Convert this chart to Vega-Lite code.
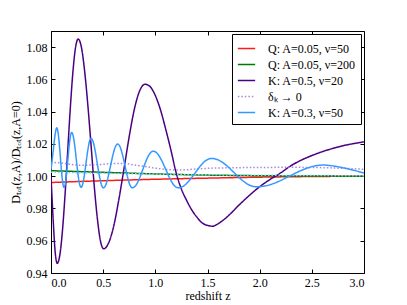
{
  "$schema": "https://vega.github.io/schema/vega-lite/v6.json",
  "width": 313,
  "height": 242,
  "autosize": {"type": "none"},
  "padding": {"left": 51, "top": 31, "right": 43, "bottom": 32},
  "background": "white",
  "config": {
    "view": {"stroke": "black", "strokeWidth": 1},
    "font": "Liberation Serif",
    "axis": {"grid": false, "domainColor": "black", "tickColor": "black", "labelColor": "black", "titleColor": "black", "labelFont": "Liberation Serif", "titleFont": "Liberation Serif", "labelFontSize": 12, "titleFontSize": 12, "titleFontWeight": "normal", "tickSize": -4, "labelPadding": 8},
    "legend": {"labelFont": "Liberation Serif", "labelFontSize": 12, "labelColor": "black"}
  },
  "data": {"values": [
    {"s":"Q50","z":0,"v":0.9961},{"s":"Q50","z":0.5,"v":0.9972},{"s":"Q50","z":1.0,"v":0.9981},{"s":"Q50","z":1.5,"v":0.9988},{"s":"Q50","z":2.0,"v":0.9994},{"s":"Q50","z":2.5,"v":0.9998},{"s":"Q50","z":3.0,"v":1.0000},
    {"s":"Q200","z":0,"v":1.0034},{"s":"Q200","z":0.25,"v":1.0029},{"s":"Q200","z":0.5,"v":1.0024},{"s":"Q200","z":0.75,"v":1.0019},{"s":"Q200","z":1.0,"v":1.0014},{"s":"Q200","z":1.25,"v":1.0010},{"s":"Q200","z":1.5,"v":1.0007},{"s":"Q200","z":2.0,"v":1.0003},{"s":"Q200","z":2.5,"v":1.0001},{"s":"Q200","z":3.0,"v":1.0000},
    {"s":"K20","z":0,"v":1.000},{"s":"K20","z":0.02,"v":0.974},{"s":"K20","z":0.04,"v":0.953},{"s":"K20","z":0.06,"v":0.946},{"s":"K20","z":0.085,"v":0.9513},{"s":"K20","z":0.11,"v":0.9664},{"s":"K20","z":0.135,"v":0.9889},{"s":"K20","z":0.16,"v":1.0155},{"s":"K20","z":0.185,"v":1.0421},{"s":"K20","z":0.21,"v":1.0646},{"s":"K20","z":0.235,"v":1.0797},{"s":"K20","z":0.26,"v":1.085},{"s":"K20","z":0.291,"v":1.0801},{"s":"K20","z":0.321,"v":1.066},{"s":"K20","z":0.352,"v":1.0449},{"s":"K20","z":0.383,"v":1.02},{"s":"K20","z":0.413,"v":0.9951},{"s":"K20","z":0.444,"v":0.974},{"s":"K20","z":0.474,"v":0.9599},{"s":"K20","z":0.505,"v":0.955},{"s":"K20","z":0.554,"v":0.9589},{"s":"K20","z":0.604,"v":0.9699},{"s":"K20","z":0.653,"v":0.9865},{"s":"K20","z":0.703,"v":1.006},{"s":"K20","z":0.752,"v":1.0255},{"s":"K20","z":0.801,"v":1.0421},{"s":"K20","z":0.851,"v":1.0531},{"s":"K20","z":0.9,"v":1.057},{"s":"K20","z":0.95,"v":1.0555},{"s":"K20","z":1.0,"v":1.05},{"s":"K20","z":1.05,"v":1.041},{"s":"K20","z":1.1,"v":1.029},{"s":"K20","z":1.15,"v":1.016},{"s":"K20","z":1.2,"v":1.002},{"s":"K20","z":1.25,"v":0.992},{"s":"K20","z":1.3,"v":0.985},{"s":"K20","z":1.35,"v":0.979},{"s":"K20","z":1.4,"v":0.9745},{"s":"K20","z":1.45,"v":0.971},{"s":"K20","z":1.5,"v":0.9695},{"s":"K20","z":1.55,"v":0.969},{"s":"K20","z":1.6,"v":0.9705},{"s":"K20","z":1.7,"v":0.9755},{"s":"K20","z":1.8,"v":0.982},{"s":"K20","z":1.9,"v":0.988},{"s":"K20","z":2.0,"v":0.9935},{"s":"K20","z":2.1,"v":0.998},{"s":"K20","z":2.2,"v":1.002},{"s":"K20","z":2.3,"v":1.0065},{"s":"K20","z":2.4,"v":1.01},{"s":"K20","z":2.5,"v":1.0128},{"s":"K20","z":2.6,"v":1.0152},{"s":"K20","z":2.7,"v":1.0172},{"s":"K20","z":2.8,"v":1.0189},{"s":"K20","z":2.9,"v":1.0202},{"s":"K20","z":3.0,"v":1.0213},
    {"s":"dK","z":0,"v":1.0085},{"s":"dK","z":0.1,"v":1.0082},{"s":"dK","z":0.2,"v":1.0072},{"s":"dK","z":0.3,"v":1.0068},{"s":"dK","z":0.4,"v":1.007},{"s":"dK","z":0.5,"v":1.0074},{"s":"dK","z":0.6,"v":1.0078},{"s":"dK","z":0.7,"v":1.0078},{"s":"dK","z":0.8,"v":1.007},{"s":"dK","z":0.9,"v":1.006},{"s":"dK","z":1.0,"v":1.005},{"s":"dK","z":1.1,"v":1.0042},{"s":"dK","z":1.2,"v":1.0038},{"s":"dK","z":1.3,"v":1.004},{"s":"dK","z":1.4,"v":1.0045},{"s":"dK","z":1.5,"v":1.0049},{"s":"dK","z":1.7,"v":1.0052},{"s":"dK","z":2.0,"v":1.0054},{"s":"dK","z":2.3,"v":1.0055},{"s":"dK","z":2.6,"v":1.0053},{"s":"dK","z":2.8,"v":1.0049},{"s":"dK","z":3.0,"v":1.0043},
    {"s":"dK50","z":0,"v":1.0024},{"s":"dK50","z":0.3,"v":1.002},{"s":"dK50","z":0.6,"v":1.0017},{"s":"dK50","z":1.0,"v":1.0013},{"s":"dK50","z":1.5,"v":1.0009},{"s":"dK50","z":2.0,"v":1.0006},{"s":"dK50","z":2.5,"v":1.0004},{"s":"dK50","z":3.0,"v":1.0003},
    {"s":"K50","z":0,"v":1.004},{"s":"K50","z":0.02,"v":1.015},{"s":"K50","z":0.04,"v":1.026},{"s":"K50","z":0.055,"v":1.03},{"s":"K50","z":0.0667,"v":1.0275},{"s":"K50","z":0.0783,"v":1.0208},{"s":"K50","z":0.09,"v":1.0116},{"s":"K50","z":0.1017,"v":1.0023},{"s":"K50","z":0.1133,"v":0.9956},{"s":"K50","z":0.125,"v":0.9931},{"s":"K50","z":0.1372,"v":0.9954},{"s":"K50","z":0.1493,"v":1.0016},{"s":"K50","z":0.1615,"v":1.0101},{"s":"K50","z":0.1737,"v":1.0186},{"s":"K50","z":0.1858,"v":1.0248},{"s":"K50","z":0.198,"v":1.0271},{"s":"K50","z":0.213,"v":1.0248},{"s":"K50","z":0.228,"v":1.0186},{"s":"K50","z":0.243,"v":1.0101},{"s":"K50","z":0.258,"v":1.0016},{"s":"K50","z":0.273,"v":0.9954},{"s":"K50","z":0.288,"v":0.9931},{"s":"K50","z":0.304,"v":0.9951},{"s":"K50","z":0.32,"v":1.0007},{"s":"K50","z":0.336,"v":1.0083},{"s":"K50","z":0.352,"v":1.0158},{"s":"K50","z":0.368,"v":1.0214},{"s":"K50","z":0.384,"v":1.0234},{"s":"K50","z":0.4037,"v":1.0214},{"s":"K50","z":0.4233,"v":1.0158},{"s":"K50","z":0.443,"v":1.0081},{"s":"K50","z":0.4627,"v":1.0005},{"s":"K50","z":0.4823,"v":0.9949},{"s":"K50","z":0.502,"v":0.9928},{"s":"K50","z":0.5248,"v":0.9946},{"s":"K50","z":0.5477,"v":0.9996},{"s":"K50","z":0.5705,"v":1.0064},{"s":"K50","z":0.5933,"v":1.0131},{"s":"K50","z":0.6162,"v":1.0181},{"s":"K50","z":0.639,"v":1.0199},{"s":"K50","z":0.6625,"v":1.0181},{"s":"K50","z":0.686,"v":1.0131},{"s":"K50","z":0.7095,"v":1.0064},{"s":"K50","z":0.733,"v":0.9996},{"s":"K50","z":0.7565,"v":0.9946},{"s":"K50","z":0.78,"v":0.9928},{"s":"K50","z":0.8133,"v":0.9943},{"s":"K50","z":0.8467,"v":0.9985},{"s":"K50","z":0.88,"v":1.0042},{"s":"K50","z":0.9133,"v":1.0098},{"s":"K50","z":0.9467,"v":1.014},{"s":"K50","z":0.98,"v":1.0155},{"s":"K50","z":1.02,"v":1.014},{"s":"K50","z":1.06,"v":1.0098},{"s":"K50","z":1.1,"v":1.0042},{"s":"K50","z":1.14,"v":0.9985},{"s":"K50","z":1.18,"v":0.9943},{"s":"K50","z":1.22,"v":0.9928},{"s":"K50","z":1.2733,"v":0.994},{"s":"K50","z":1.3267,"v":0.9974},{"s":"K50","z":1.38,"v":1.0019},{"s":"K50","z":1.4333,"v":1.0065},{"s":"K50","z":1.4867,"v":1.0098},{"s":"K50","z":1.54,"v":1.011},{"s":"K50","z":1.6117,"v":1.0098},{"s":"K50","z":1.6833,"v":1.0066},{"s":"K50","z":1.755,"v":1.0022},{"s":"K50","z":1.8267,"v":0.9978},{"s":"K50","z":1.8983,"v":0.9946},{"s":"K50","z":1.97,"v":0.9934},{"s":"K50","z":2.0767,"v":0.9943},{"s":"K50","z":2.1833,"v":0.9968},{"s":"K50","z":2.29,"v":1.0002},{"s":"K50","z":2.3967,"v":1.0035},{"s":"K50","z":2.5033,"v":1.006},{"s":"K50","z":2.61,"v":1.0069},{"s":"K50","z":2.7,"v":1.0064},{"s":"K50","z":2.8,"v":1.0052},{"s":"K50","z":2.9,"v":1.0037},{"s":"K50","z":3.0,"v":1.002}
  ]},
  "layer": [
    {
      "mark": {"type": "line", "interpolate": "monotone", "strokeWidth": 1.5, "clip": true},
      "encoding": {
        "x": {"field": "z", "type": "quantitative", "scale": {"domain": [0, 3], "nice": false, "zero": false}, "axis": {"title": "redshift z", "values": [0, 0.5, 1, 1.5, 2, 2.5, 3], "format": ".1f", "titlePadding": 2}},
        "y": {"field": "v", "type": "quantitative", "scale": {"domain": [0.94, 1.09], "nice": false, "zero": false}, "axis": {"title": "Dₜₒₜ(z,A)/Dₜₒₜ(z,A=0)", "values": [0.94, 0.96, 0.98, 1.0, 1.02, 1.04, 1.06, 1.08], "format": ".2f", "titlePadding": 4}},
        "color": {"field": "s", "type": "nominal", "scale": {"domain": ["Q50", "Q200", "K20", "dK", "K50", "dK50"], "range": ["#ff1a1a", "#007a00", "#4b0082", "#a985e0", "#3399ff", "#8ccfff"]}, "legend": {"title": null, "orient": "top-right", "offset": 3, "values": ["Q50", "Q200", "K20", "dK", "K50"], "labelExpr": "{'Q50':'Q: A=0.05, ν=50','Q200':'Q: A=0.05, ν=200','K20':'K: A=0.5, ν=20','dK':'\u00a0\u00a0\u00a0\u00a0\u00a0\u00a0\u00a0δₖ → 0','K50':'K: A=0.3, ν=50'}[datum.label]", "symbolType": "stroke", "symbolSize": 300, "symbolStrokeWidth": 1.5, "rowPadding": 0, "padding": 5, "strokeColor": "black", "fillColor": "white", "cornerRadius": 0, "labelOffset": 12}},
        "strokeDash": {"field": "s", "type": "nominal", "scale": {"domain": ["Q50", "Q200", "K20", "dK", "K50", "dK50"], "range": [[1, 0], [1, 0], [1, 0], [1.5, 2], [1, 0], [1.5, 2]]}, "legend": {"title": null, "orient": "top-right", "offset": 3, "values": ["Q50", "Q200", "K20", "dK", "K50"], "labelExpr": "{'Q50':'Q: A=0.05, ν=50','Q200':'Q: A=0.05, ν=200','K20':'K: A=0.5, ν=20','dK':'\u00a0\u00a0\u00a0\u00a0\u00a0\u00a0\u00a0δₖ → 0','K50':'K: A=0.3, ν=50'}[datum.label]", "symbolType": "stroke", "symbolSize": 300, "symbolStrokeWidth": 1.5, "rowPadding": 0, "padding": 5, "strokeColor": "black", "fillColor": "white", "cornerRadius": 0, "labelOffset": 12}}
      }
    },
    {
      "mark": {"type": "line", "opacity": 0},
      "encoding": {
        "x": {"field": "z", "type": "quantitative", "axis": {"orient": "top", "title": null, "labels": false, "values": [0, 0.5, 1, 1.5, 2, 2.5, 3], "domain": false}},
        "y": {"field": "v", "type": "quantitative", "axis": {"orient": "right", "title": null, "labels": false, "values": [0.94, 0.96, 0.98, 1.0, 1.02, 1.04, 1.06, 1.08], "domain": false}},
        "detail": {"field": "s"}
      }
    }
  ],
  "resolve": {"axis": {"x": "independent", "y": "independent"}}
}
